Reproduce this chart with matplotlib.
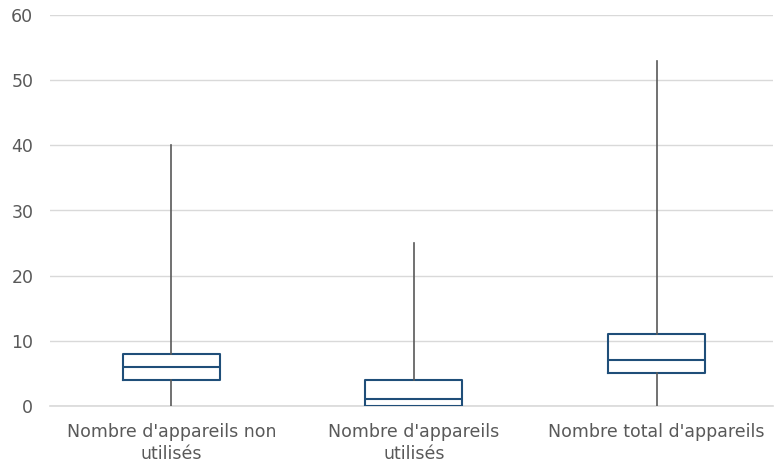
import matplotlib.pyplot as plt

# box statistics
categories = ["Nombre d'appareils non\nutilisés", "Nombre d'appareils\nutilisés", "Nombre total d'appareils"]
mins = [0, 0, 0]
q1s = [4, 0, 5]
medians = [6, 1, 7]
q3s = [8, 4, 11]
maxs = [40, 25, 53]

stats = []
for lab, lo, q1, med, q3, hi in zip(categories, mins, q1s, medians, q3s, maxs):
    stats.append({'label': lab, 'whislo': lo, 'q1': q1, 'med': med, 'q3': q3, 'whishi': hi, 'fliers': []})

fig = plt.figure(figsize=(7.74, 4.65), dpi=100)
ax = fig.add_axes([50 / 774, 59 / 465, 723 / 774, 391 / 465])

box_col = '#1F4E79'
grey = '#595959'
ax.bxp(stats, positions=range(len(stats)), widths=0.4, showcaps=False, showfliers=False,
       boxprops=dict(color=box_col, linewidth=1.5),
       medianprops=dict(color=box_col, linewidth=1.5),
       whiskerprops=dict(color=grey, linewidth=1.2))

ax.set_xlim(-0.5, 2.48)
ax.set_ylim(0, 60)
ax.set_yticks(range(0, 61, 10))
ax.grid(axis='y', color='#D9D9D9', linewidth=1)
ax.axhline(0, color='#D9D9D9', linewidth=1.2, clip_on=False, zorder=0.5)
ax.set_axisbelow(True)
for s in ax.spines.values():
    s.set_visible(False)
ax.tick_params(length=0, colors=grey, labelsize=12.5)
ax.tick_params(axis='y', pad=12)
ax.tick_params(axis='x', pad=12)
for t in ax.get_xticklabels():
    t.set_linespacing(1.3)

fig.savefig('out.png', dpi=100)
